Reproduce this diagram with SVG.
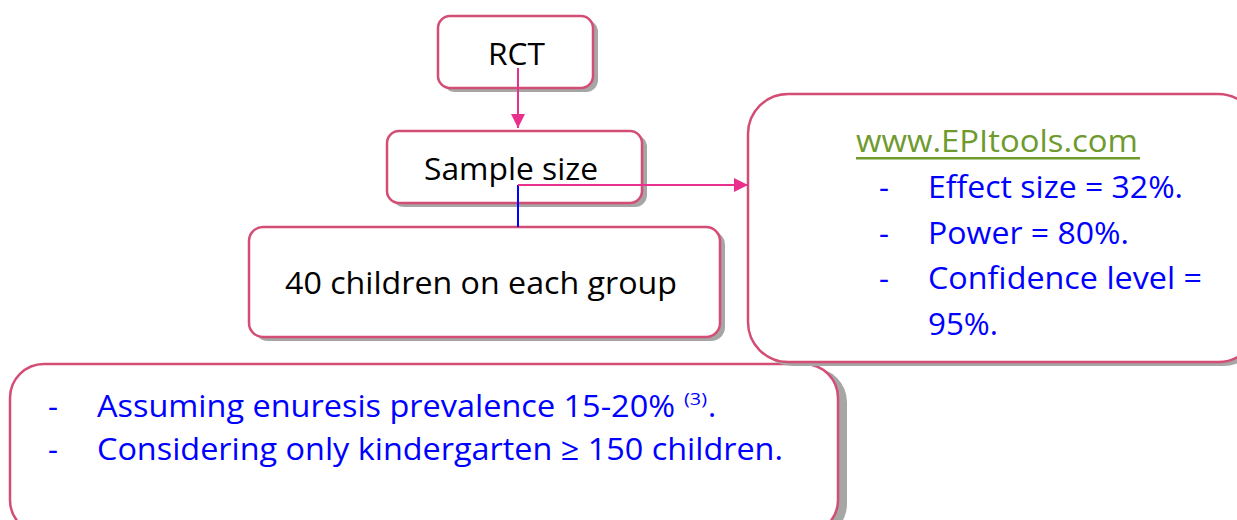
<svg xmlns="http://www.w3.org/2000/svg" width="1237" height="520" viewBox="0 0 1237 520">
<style>
.box{fill:#fff;stroke:#d44d74;stroke-width:2.5}
.sh{fill:#a6a6a6}
.t{font-family:"Open Sans","Noto Sans","Liberation Sans",sans-serif;font-size:31px}
.k{fill:#000}
.b{fill:#0000ff}
.g{fill:#6f9a2e}
</style>
<defs>
<marker id="ah" viewBox="0 0 10 10" refX="10" refY="5" markerWidth="5" markerHeight="5" orient="auto" markerUnits="userSpaceOnUse">
<path d="M0,0 L10,5 L0,10 z" fill="#e8308c"/>
</marker>
<marker id="ah2" viewBox="0 0 10 10" refX="10" refY="5" markerWidth="14" markerHeight="14" orient="auto" markerUnits="userSpaceOnUse">
<path d="M0,0 L10,5 L0,10 z" fill="#e8308c"/>
</marker>
</defs>
<g id="node-bottom">
<rect class="sh" x="15" y="368" width="832" height="170" rx="34"/>
<rect class="box" x="10" y="364" width="828" height="170" rx="34"/>
<text class="t b" x="48" y="417">-</text>
<text class="t b" x="97" y="417" textLength="578" lengthAdjust="spacingAndGlyphs">Assuming enuresis prevalence 15-20%</text>
<text class="t b" x="684" y="405" style="font-size:17px" textLength="23" lengthAdjust="spacingAndGlyphs">(3)</text>
<text class="t b" x="708" y="417">.</text>
<text class="t b" x="48" y="460">-</text>
<text class="t b" x="97" y="460" textLength="686" lengthAdjust="spacingAndGlyphs">Considering only kindergarten ≥ 150 children.</text>
</g>
<g id="node-epi">
<rect class="sh" x="753" y="98" width="510" height="268" rx="40"/>
<rect class="box" x="748" y="94" width="510" height="268" rx="40"/>
<text class="t g" x="856" y="152" textLength="282" lengthAdjust="spacingAndGlyphs">www.EPItools.com</text>
<rect x="856" y="157" width="284" height="2.5" fill="#6f9a2e"/>
<text class="t b" x="879" y="198">-</text>
<text class="t b" x="928" y="198" textLength="255" lengthAdjust="spacingAndGlyphs">Effect size = 32%.</text>
<text class="t b" x="879" y="244">-</text>
<text class="t b" x="928" y="244" textLength="201" lengthAdjust="spacingAndGlyphs">Power = 80%.</text>
<text class="t b" x="879" y="289">-</text>
<text class="t b" x="928" y="289" textLength="274" lengthAdjust="spacingAndGlyphs">Confidence level =</text>
<text class="t b" x="928" y="335" textLength="70" lengthAdjust="spacingAndGlyphs">95%.</text>
</g>
<g id="node-children">
<rect class="sh" x="254" y="231" width="471" height="110" rx="14"/>
<rect class="box" x="249" y="227" width="471" height="110" rx="14"/>
<text class="t k" x="285" y="294" textLength="392" lengthAdjust="spacingAndGlyphs">40 children on each group</text>
</g>
<g id="node-sample">
<rect class="sh" x="392" y="135" width="255" height="72" rx="12"/>
<rect class="box" x="387" y="131" width="255" height="72" rx="12"/>
<text class="t k" x="424" y="180" textLength="174" lengthAdjust="spacingAndGlyphs">Sample size</text>
</g>
<g id="node-rct">
<rect class="sh" x="443" y="20" width="155" height="72" rx="12"/>
<rect class="box" x="438" y="16" width="155" height="72" rx="12"/>
<text class="t k" x="488" y="65" textLength="57" lengthAdjust="spacingAndGlyphs">RCT</text>
</g>
<g id="connectors">
<line x1="518" y1="68" x2="518" y2="128" stroke="#e8308c" stroke-width="2" marker-end="url(#ah2)"/>
<line x1="518" y1="185" x2="518" y2="227" stroke="#0000ff" stroke-width="2"/>
<line x1="518" y1="185" x2="748" y2="185" stroke="#e8308c" stroke-width="2" marker-end="url(#ah2)"/>
</g>
</svg>
